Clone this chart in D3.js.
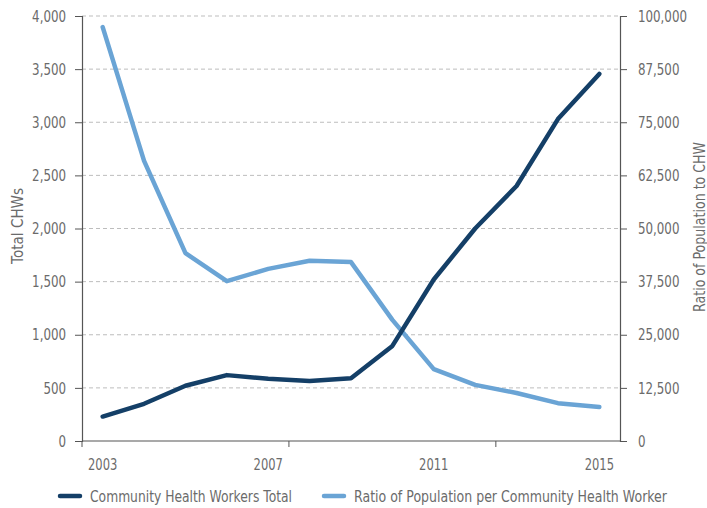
<!DOCTYPE html>
<html lang="en">
<head>
<meta charset="UTF-8">
<title>CHW chart</title>
<script src="https://cdn.jsdelivr.net/npm/d3@7"></script>
<style>
  body { margin: 0; background: #fff; }
  text { font-family: "DejaVu Sans", sans-serif; fill: #6b6b6b; }
</style>
</head>
<body>
<script>
    var years = ["2003", "2004", "2005", "2006", "2007", "2008", "2009",
        "2010", "2011", "2012", "2013", "2014", "2015"];
    var chwTotal = [230, 350, 520, 620, 585, 565, 590, 895, 1520, 2000, 2400, 3030, 3455];
    var ratioPop = [97400, 65900, 44200, 37600, 40500, 42400, 42100, 28500, 16900, 13200, 11300, 8900, 8000];
    var leftTicks = [0, 500, 1000, 1500, 2000, 2500, 3000, 3500, 4000];
    var rightTicks = [0, 12500, 25000, 37500, 50000, 62500, 75000, 87500, 100000];
    var labelYears = ["2003", "2007", "2011", "2015"];
    var seriesNames = ["Community Health Workers Total", "Ratio of Population per Community Health Worker"];

    var width = 707, height = 508;
    var plotLeft = 82, plotRight = 620, plotTop = 16, plotBottom = 441;

    var svg = d3.select("body").append("svg")
        .attr("width", width)
        .attr("height", height);

    var xScale = d3.scaleBand()
        .domain(years)
        .range([plotLeft, plotRight]);
    var yLeft = d3.scaleLinear().domain([0, 4000]).range([plotBottom, plotTop]);
    var yRight = d3.scaleLinear().domain([0, 100000]).range([plotBottom, plotTop]);

    // squeeze DejaVu to look like the condensed face of the original
    function condense(sel, k) {
        sel.each(function () {
            var len = this.getComputedTextLength();
            d3.select(this).attr("textLength", len * k).attr("lengthAdjust", "spacingAndGlyphs");
        });
    }

    // gridlines
    svg.append("g").selectAll("line")
        .data(leftTicks.slice(1))
        .enter().append("line")
        .attr("x1", plotLeft).attr("x2", plotRight)
        .attr("y1", function (d) { return yLeft(d); })
        .attr("y2", function (d) { return yLeft(d); })
        .attr("stroke", "#bdbdbd")
        .attr("stroke-dasharray", "4,3");

    var fmt = d3.format(",");

    var lAxis = d3.axisLeft(yLeft).tickValues(leftTicks).tickFormat(fmt).tickSize(7).tickPadding(9);
    var rAxis = d3.axisRight(yRight).tickValues(rightTicks).tickFormat(fmt).tickSize(7).tickPadding(11);

    var lg = svg.append("g").attr("transform", "translate(" + plotLeft + ",0)").call(lAxis);
    var rg = svg.append("g").attr("transform", "translate(" + plotRight + ",0)").call(rAxis);
    [lg, rg].forEach(function (g) {
        g.select(".domain").attr("stroke", "#555").attr("stroke-width", 1.2);
        g.selectAll(".tick line").attr("stroke", "#555");
        g.selectAll("text").style("font-size", "16px").attr("fill", "#6b6b6b")
            .style("font-family", "'DejaVu Sans', sans-serif");
        condense(g.selectAll("text"), 0.74);
    });

    // x axis
    var xg = svg.append("g").attr("transform", "translate(0," + plotBottom + ")");
    xg.append("line").attr("x1", plotLeft).attr("x2", plotRight)
        .attr("stroke", "#555").attr("stroke-width", 1.2);
    xg.selectAll(".xt")
        .data(years.filter(function (d, i) { return i % 5 === 0; }))
        .enter().append("line")
        .attr("x1", function (d) { return xScale(d); })
        .attr("x2", function (d) { return xScale(d); })
        .attr("y1", 0).attr("y2", 6)
        .attr("stroke", "#555");
    var xl = xg.selectAll(".xl")
        .data(labelYears)
        .enter().append("text")
        .attr("x", function (d) { return xScale(d) + xScale.bandwidth() / 2; })
        .attr("y", 29)
        .attr("text-anchor", "middle")
        .style("font-size", "16px")
        .text(function (d) { return d; });
    condense(xl, 0.72);

    // axis titles
    svg.append("text")
        .attr("transform", "translate(23,226) rotate(-90)")
        .attr("text-anchor", "middle")
        .style("font-size", "15px")
        .attr("textLength", 76).attr("lengthAdjust", "spacingAndGlyphs")
        .text("Total CHWs");
    svg.append("text")
        .attr("transform", "translate(705,227) rotate(-90)")
        .attr("text-anchor", "middle")
        .style("font-size", "15px")
        .attr("textLength", 170).attr("lengthAdjust", "spacingAndGlyphs")
        .text("Ratio of Population to CHW");

    var cx = function (d, i) { return xScale(years[i]) + xScale.bandwidth() / 2; };

    var lineRatio = d3.line().x(cx).y(function (d) { return yRight(d); });
    var lineChw = d3.line().x(cx).y(function (d) { return yLeft(d); });

    svg.append("path")
        .attr("d", lineRatio(ratioPop))
        .attr("fill", "none")
        .attr("stroke", "#6aa4d5")
        .attr("stroke-width", 4.5)
        .attr("stroke-linecap", "round")
        .attr("stroke-linejoin", "round");

    svg.append("path")
        .attr("d", lineChw(chwTotal))
        .attr("fill", "none")
        .attr("stroke", "#143f67")
        .attr("stroke-width", 4.5)
        .attr("stroke-linecap", "round")
        .attr("stroke-linejoin", "round");

    // legend
    var legend = [
        {name: seriesNames[0], color: "#143f67", x: 58, w: 202},
        {name: seriesNames[1], color: "#6aa4d5", x: 322, w: 313}
    ];
    var lgd = svg.append("g").selectAll("g").data(legend).enter().append("g")
        .attr("transform", function (d) { return "translate(" + d.x + ",496)"; });
    lgd.append("line").attr("x1", 2).attr("x2", 22)
        .attr("stroke", function (d) { return d.color; })
        .attr("stroke-width", 4.5)
        .attr("stroke-linecap", "round");
    lgd.append("text").attr("x", 32).attr("y", 6)
        .style("font-size", "16px")
        .attr("textLength", function (d) { return d.w; })
        .attr("lengthAdjust", "spacingAndGlyphs")
        .text(function (d) { return d.name; });
</script>
</body>
</html>
